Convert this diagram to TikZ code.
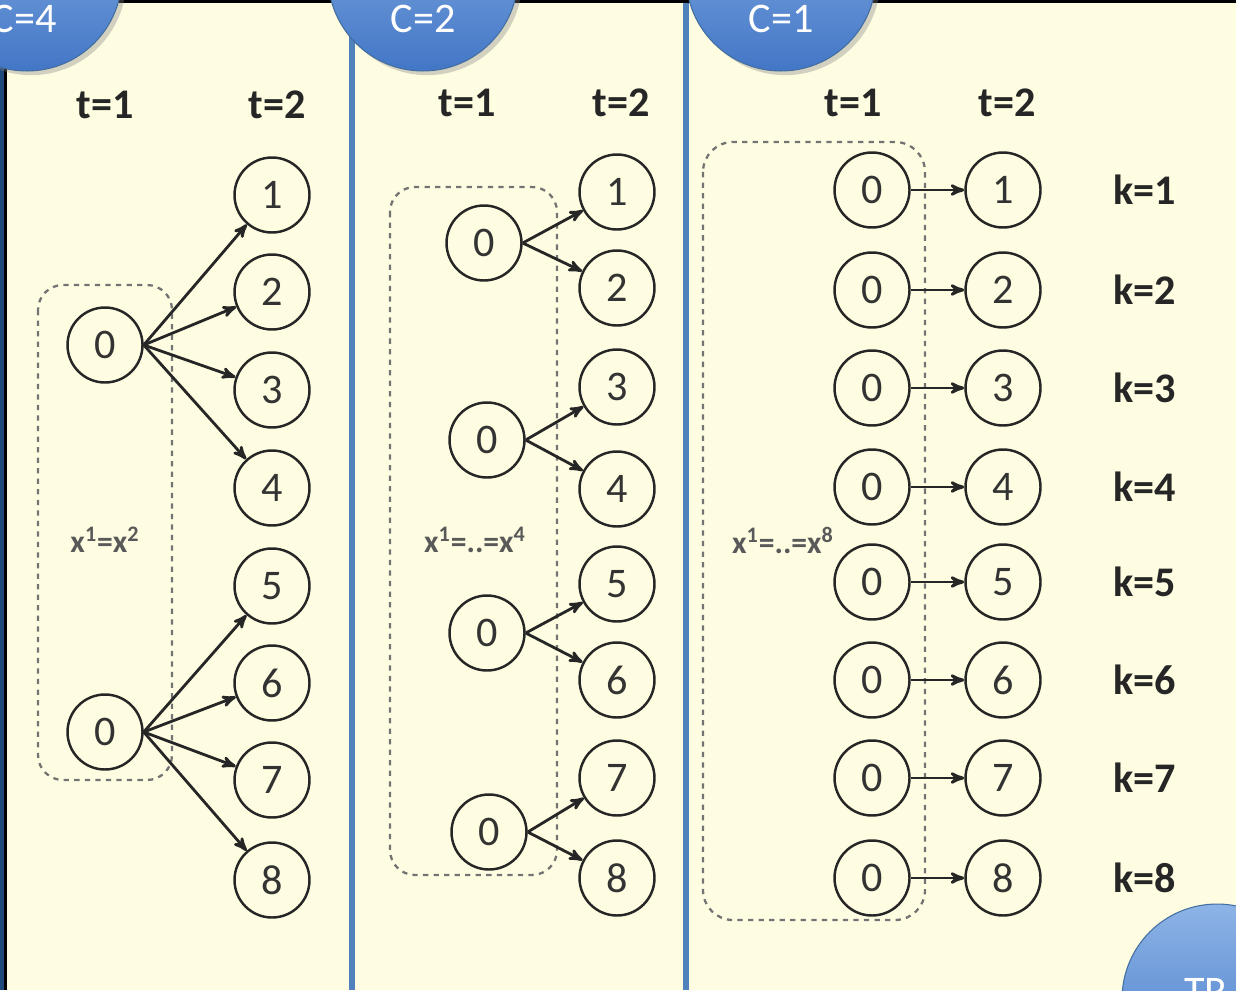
\documentclass[tikz,border=0pt]{standalone}
\usepackage{fontspec}
\setmainfont{Carlito}
\usetikzlibrary{arrows,shadows}

\definecolor{slidenavy}{RGB}{31,73,125}
\definecolor{paper}{RGB}{254,253,225}
\definecolor{frameblue}{RGB}{79,129,189}
\definecolor{bubbletop}{RGB}{141,180,230}
\definecolor{bubblebot}{RGB}{66,118,198}

\tikzset{
  st/.style={circle,draw=black!85,line width=1.4pt,minimum size=1.5cm,inner sep=0pt,
    font=\fontsize{24}{24}\selectfont,text=black!80},
  tlab/.style={font=\fontsize{24}{24}\selectfont\bfseries,text=black!85},
  grp/.style={draw=black!55,dashed,line width=1.3pt,rounded corners=0.5cm},
  xlab/.style={font=\fontsize{18}{18}\selectfont\bfseries,text=black!65},
  edge/.style={-stealth',line width=1.6pt,draw=black!85},
  bubble/.style={circle,minimum size=3.8cm,draw=frameblue!85!black,line width=0.6pt,
    top color=bubbletop,bottom color=bubblebot,drop shadow={opacity=0.35}},
  btxt/.style={text=white,font=\fontsize{24}{24}\selectfont}
}

\begin{document}
\begin{tikzpicture}[x=0.02cm,y=-0.02cm]
\useasboundingbox (0,0) rectangle (1236,990);
% slide and the three frames
\fill[slidenavy] (0,0) rectangle (1236,990);
\fill[paper] (6,2) rectangle (1236,990);
\draw[line width=1.2pt] (5.5,990) -- (5.5,1.5) -- (1236,1.5);
\draw[frameblue,line width=3.4pt] (352,3) -- (352,990);
\draw[frameblue,line width=3.4pt] (686,3) -- (686,990);
%%%%%%%%%%%%%%%%%%%%%%%%%%%%%%%%%%%%%
% C=4
\node[tlab] (p1t1) at (105,105) {t=1};
\node[tlab] (p1t2) at (277,105) {t=2};
\draw[grp] (38,285) rectangle (172,780);
\node[xlab] (p1x) at (105,540) {x\textsuperscript{1}=x\textsuperscript{2}};
\node[st] (p1a) at (105,345) {0};
\node[st] (p1b) at (105,732) {0};
\foreach \k/\y in {1/195,2/292,3/390,4/488,5/586,6/683,7/780,8/880}
  \node[st] (p1n\k) at (272,\y) {\k};
\foreach \k in {1,...,4}
  \draw[edge] (p1a.east) -- (p1n\k);
\foreach \k in {5,...,8}
  \draw[edge] (p1b.east) -- (p1n\k);
%%%%%%%%%%%%%%%%%%%%%%%%%%%%%%%%%%%%%
% C=2
\node[tlab] (p2t1) at (467,103) {t=1};
\node[tlab] (p2t2) at (621,103) {t=2};
\draw[grp] (390,187) rectangle (557,875);
\node[xlab] (p2x) at (475,540) {x\textsuperscript{1}=..=x\textsuperscript{4}};
\node[st] (p2a) at (484,243) {0};
\node[st] (p2b) at (487,440) {0};
\node[st] (p2c) at (487,633) {0};
\node[st] (p2d) at (489,832) {0};
\foreach \k/\y in {1/192,2/288,3/387,4/489,5/584,6/680,7/778,8/878}
  \node[st] (p2n\k) at (617,\y) {\k};
\draw[edge] (p2a.east) -- (p2n1);
\draw[edge] (p2a.east) -- (p2n2);
\draw[edge] (p2b.east) -- (p2n3);
\draw[edge] (p2b.east) -- (p2n4);
\draw[edge] (p2c.east) -- (p2n5);
\draw[edge] (p2c.east) -- (p2n6);
\draw[edge] (p2d.east) -- (p2n7);
\draw[edge] (p2d.east) -- (p2n8);
%%%%%%%%%%%%%%%%%%%%%%%%%%%%%%%%%%%%%
% C=1
\node[tlab] (p3t1) at (853,103) {t=1};
\node[tlab] (p3t2) at (1007,103) {t=2};
\draw[grp,rounded corners=0.6cm] (703,142) rectangle (925,920);
\node[xlab] (p3x) at (783,540) {x\textsuperscript{1}=..=x\textsuperscript{8}};
\foreach \k/\y in {1/190,2/290,3/388,4/487,5/582,6/680,7/778,8/878}{
  \node[st] (p3a\k) at (872,\y) {0};
  \node[st] (p3n\k) at (1003,\y) {\k};
  \node[tlab] (p3k\k) at (1145,\y) {k=\k};
  \draw[edge] (p3a\k) -- (p3n\k);
}
%%%%%%%%%%%%%%%%%%%%%%%%%%%%%%%%%%%%%
% bubbles
\node[bubble] (b4) at (27,-24) {};
\node[btxt] (b4t) at (24,19) {C=4};
\node[bubble] (b2) at (423,-24) {};
\node[btxt] (b2t) at (423,19) {C=2};
\node[bubble] (b1) at (781,-24) {};
\node[btxt] (b1t) at (781,19) {C=1};
\node[bubble] (btr) at (1217,999) {};
\node[btxt,anchor=west] (btrt) at (1178,992) {TR};
\end{tikzpicture}
\end{document}
